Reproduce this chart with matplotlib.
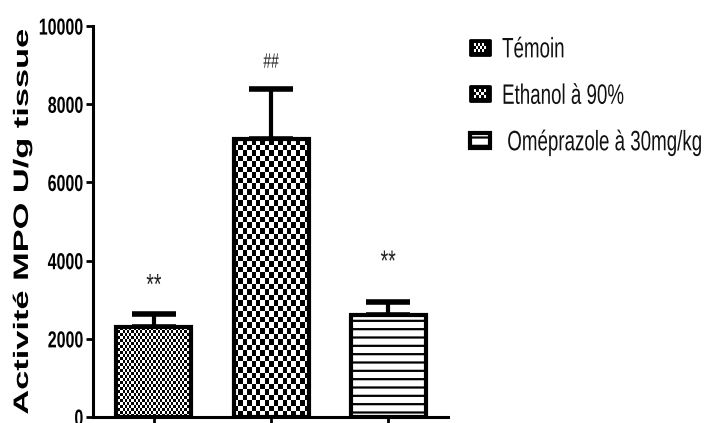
import numpy as np
import matplotlib
matplotlib.use("Agg")
import matplotlib.pyplot as plt
from matplotlib.patches import Patch, Rectangle
from matplotlib.legend_handler import HandlerBase
from matplotlib.patheffects import AbstractPathEffect
from matplotlib.transforms import Affine2D

# MPO activity per group (mean + SEM, U/g tissue)
groups = ["Témoin", "Ethanol à 90%", " Oméprazole à 30mg/kg"]
mpo_mean = [2300, 7100, 2600]
mpo_sem = [330, 1300, 340]
signif = ["**", "##", "**"]
signif_y = [3350, 9100, 3950]
yticks = [0, 2000, 4000, 6000, 8000, 10000]

FONT = "Liberation Sans"
TALL = 1.5  # glyphs are drawn taller than wide, like the exported graph


class Stretch(AbstractPathEffect):
    """Scale text glyphs: vertically for horizontal text, lengthwise for rotated text."""

    def __init__(self, s, along=False):
        super().__init__()
        self.s, self.along = s, along

    def draw_path(self, renderer, gc, tpath, affine, rgbFace=None):
        v = tpath.vertices
        if self.along:
            c = 0.5 * (v[:, 0].min() + v[:, 0].max()) if len(v) else 0.0
            pre = Affine2D().translate(-c, 0).scale(self.s, 1).translate(c, 0)
        else:
            c = 36.0  # middle of cap height, in text-path units (em = 100)
            pre = Affine2D().translate(0, -c).scale(1, self.s).translate(0, c)
        renderer.draw_path(gc, tpath, pre + affine, rgbFace)


def checker(nrows, ncols):
    r, c = np.indices((nrows, ncols))
    return ((r + c) % 2).astype(float)


class CheckerHandler(HandlerBase):
    """Legend key: black box with a grid of white cells."""

    def __init__(self, nx, ny, margin=0.2):
        super().__init__()
        self.nx, self.ny, self.margin = nx, ny, margin

    def create_artists(self, legend, orig_handle, xdescent, ydescent,
                       width, height, fontsize, trans):
        x0, y0 = -xdescent, -ydescent
        arts = [Rectangle((x0, y0), width, height, fc="black", ec="black",
                          lw=2, joinstyle="round", transform=trans)]
        m = self.margin
        iw, ih = width * (1 - 2 * m), height * (1 - 2 * m)
        cw, chh = iw / self.nx, ih / self.ny
        for i in range(self.nx):
            for j in range(self.ny):
                if (i + j) % 2 == 0:
                    arts.append(Rectangle((x0 + width * m + i * cw, y0 + height * m + j * chh),
                                          cw, chh, fc="white", ec="none", transform=trans))
        return arts


fig = plt.figure(figsize=(7.17, 4.23), dpi=100)
ax = fig.add_axes([93 / 717, 6 / 423, 355 / 717, 391 / 423])

x = np.arange(len(groups))
XLIM = (-0.52, 2.51)
ax.set_xlim(*XLIM)
ax.set_ylim(0, 10000)

# upper error bars only, drawn beneath the bars
ax.errorbar(x, mpo_mean, yerr=[np.zeros(len(x)), mpo_sem], fmt="none",
            ecolor="black", elinewidth=3, capsize=16, capthick=4, zorder=1)

plt.rcParams["hatch.linewidth"] = 1.6
bars = ax.bar(x, mpo_mean, width=0.64, facecolor="white", edgecolor="black",
              linewidth=3, zorder=3)
bars[2].set_hatch("--")

# checkerboard fills for the first two bars (cell size in pixels: w, h)
cells = [(2.2, 3.0), (4.5, 5.6)]
for bar, (cw, chh) in zip(bars[:2], cells):
    bb = bar.get_window_extent()
    nx = max(int(round(bb.width / cw)), 1)
    ny = max(int(round(bb.height / chh)), 1)
    x0, y0 = bar.get_x(), bar.get_y()
    im = ax.imshow(checker(ny, nx), cmap="gray", vmin=0, vmax=1,
                   extent=(x0, x0 + bar.get_width(), y0, y0 + bar.get_height()),
                   interpolation="nearest", aspect="auto", zorder=2)
    im.set_clip_path(bar)
    bar.set_facecolor("none")

ax.set_xlim(*XLIM)
ax.set_ylim(0, 10000)

sig_size = [14, 10, 14]
for xi, lab, ly, fs in zip(x, signif, signif_y, sig_size):
    ax.text(xi, ly, lab, ha="center", va="center", fontsize=fs, family=FONT,
            color="#222222", path_effects=[Stretch(TALL)])

for side in ["top", "right"]:
    ax.spines[side].set_visible(False)
for side in ["left", "bottom"]:
    ax.spines[side].set_linewidth(2.2)

ax.set_yticks(yticks)
ax.set_yticklabels([str(v) for v in yticks], family=FONT,
                   fontweight="bold", fontsize=11.5)
for t in ax.get_yticklabels():
    t.set_path_effects([Stretch(1.45)])
ax.set_xticks(x)
ax.set_xticklabels([])
ax.tick_params(axis="y", length=5, width=2, pad=2)
ax.tick_params(axis="x", length=7, width=2)

ax.set_ylabel("Activité MPO U/g tissue", family=FONT, fontweight="bold",
              fontsize=15, path_effects=[Stretch(1.65, along=True)])
ax.yaxis.set_label_coords(-0.172, 0.5)

handles = [Patch(), Patch(),
           Patch(facecolor="white", edgecolor="black", hatch="--", linewidth=3)]
hmap = {handles[0]: CheckerHandler(6, 3), handles[1]: CheckerHandler(5, 3)}
leg = fig.legend(handles, groups, handler_map=hmap, loc="upper left",
                 bbox_to_anchor=(470 / 717, 1 - 40 / 423), frameon=False,
                 borderpad=0, borderaxespad=0, handlelength=1.07, handleheight=0.85,
                 handletextpad=0.64, labelspacing=1.52,
                 prop={"family": FONT, "size": 13.5})
for t in leg.get_texts():
    t.set_path_effects([Stretch(TALL)])
    t.set_color("#111111")

fig.savefig("out.png", dpi=100)
